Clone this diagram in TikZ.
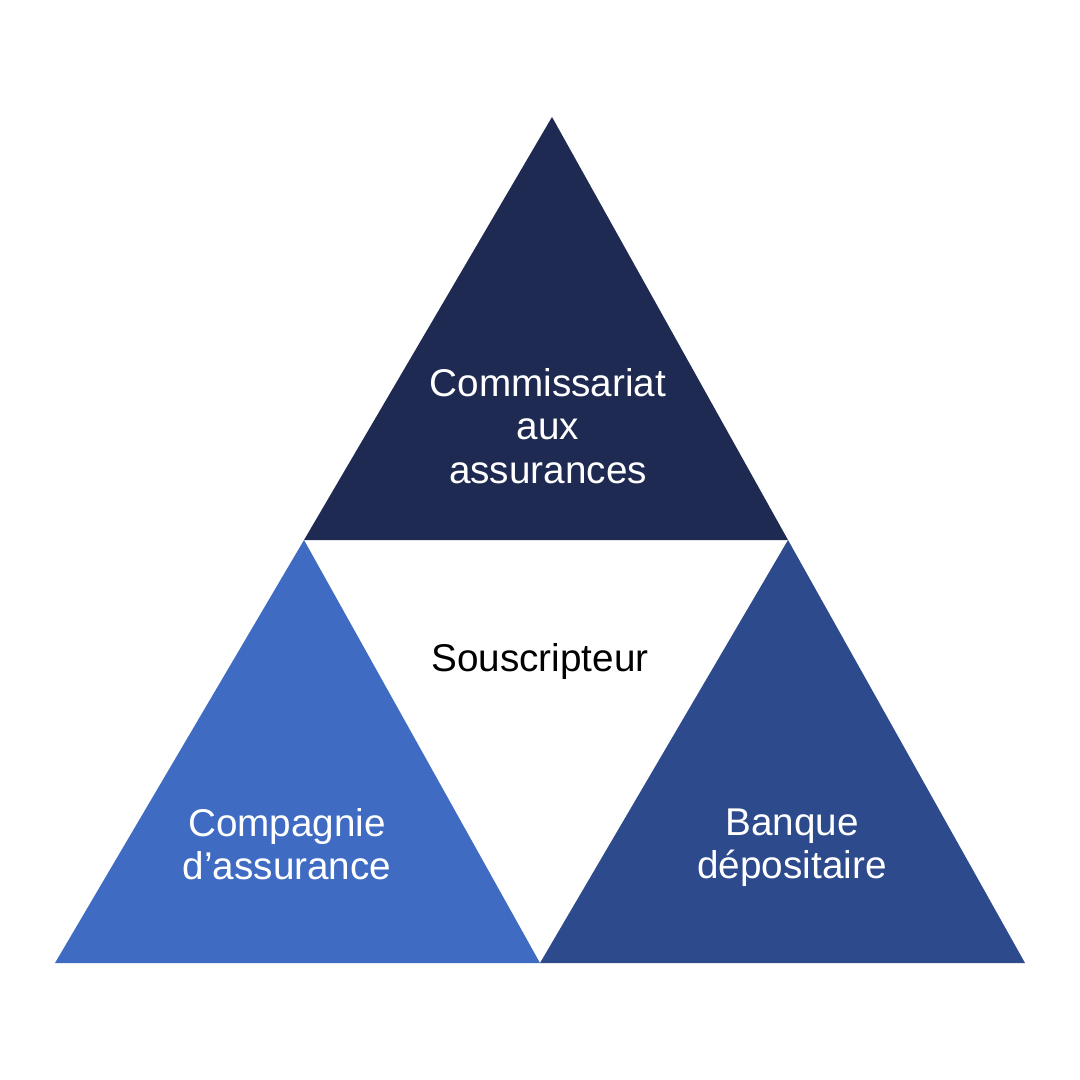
\documentclass[tikz,border=0pt]{standalone}
\usepackage{fontspec}
\setmainfont{Liberation Sans}
\definecolor{navy}{HTML}{1F2A52}
\definecolor{midblue}{HTML}{2C4A8C}
\definecolor{lightblue}{HTML}{3F6CC2}

\begin{document}
\begin{tikzpicture}[x=0.01cm,y=-0.01cm,
  lbl/.style={align=center, font=\fontsize{11}{12.3}\selectfont}]
\useasboundingbox (0,0) rectangle (1080,1080);

\coordinate (t1) at (552,117);
\coordinate (m1) at (304,540);
\coordinate (m2) at (788,540);
\coordinate (b1) at (55,963);
\coordinate (b2) at (540,963);
\coordinate (b3) at (1025,963);

\fill[navy] (t1) -- (m2) -- (m1) -- cycle;
\fill[lightblue] (m1) -- (b2) -- (b1) -- cycle;
\fill[midblue] (m2) -- (b3) -- (b2) -- cycle;

\node[lbl, white] (cda) at (548,426) {Commissariat\\aux\\assurances};
\node[lbl, black] (sous) at (540,661) {Souscripteur};
\node[lbl, white] (comp) at (287,844) {Compagnie\\d’assurance};
\node[lbl, white] (bank) at (792,848) {Banque\\dépositaire};
\end{tikzpicture}
\end{document}
